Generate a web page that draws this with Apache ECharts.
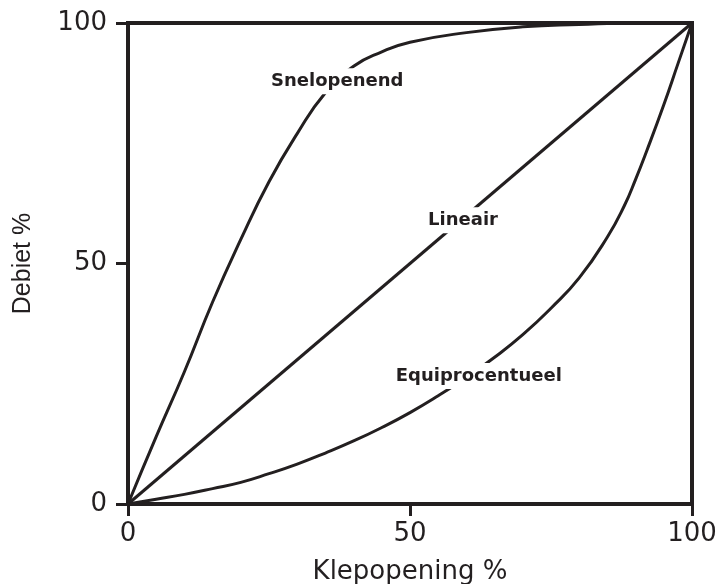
<!DOCTYPE html>
<html>
<head>
<meta charset="utf-8">
<script src="https://cdn.jsdelivr.net/npm/echarts@6/dist/echarts.min.js"></script>
<style>html,body{margin:0;padding:0;background:#fff;}#c{width:723px;height:584px;}</style>
</head>
<body>
<div id="c"></div>
<script>
const ticks = [0, 50, 100];
const snelopenend = [[0,0],[5,14],[10,27.5],[15,42],[20,55],[25,67],[30,77],[35,85.5],[40,91],[45,94],[50,96],[60,98],[70,99.2],[80,99.7],[90,100],[100,100]];
const lineair = [[0,0],[100,100]];
const equiprocentueel = [[0,0],[5,1],[10,2],[15,3.2],[20,4.5],[25,6.3],[30,8.3],[35,10.6],[40,13.1],[45,15.9],[50,19],[55,22.5],[60,26.3],[65,30.5],[70,35.2],[75,40.7],[80,47],[85,55.5],[88,62],[90,67.5],[92,73.5],[95,83],[97.5,91.5],[100,100]];
const curveLabels = [
  {name: 'Snelopenend', value: [37.1, 87.9]},
  {name: 'Lineair', value: [59.4, 59.0]},
  {name: 'Equiprocentueel', value: [62.2, 26.6]}
];
const ink = '#231f20';
const chart = echarts.init(document.getElementById('c'));
const lineStyle = {color: ink, width: 3};
chart.setOption({
  animation: false,
  grid: {left: 128, right: 31, top: 23, bottom: 80, outerBoundsMode: 'none', containLabel: false, show: true, borderColor: ink, borderWidth: 4, backgroundColor: '#fff'},
  xAxis: {
    type: 'value', min: 0, max: 100, interval: 50,
    name: 'Klepopening %', nameLocation: 'middle', nameGap: 55,
    nameTextStyle: {fontFamily: 'DejaVu Sans', fontSize: 26, color: ink},
    axisLine: {show: true, lineStyle: {color: ink, width: 4}},
    axisTick: {show: true, length: 12, lineStyle: {color: ink, width: 3}},
    axisLabel: {fontFamily: 'DejaVu Sans', fontSize: 26, color: ink, margin: 17},
    splitLine: {show: false}
  },
  yAxis: {
    type: 'value', min: 0, max: 100, interval: 50,
    name: 'Debiet %', nameLocation: 'middle', nameGap: 92,
    nameTextStyle: {fontFamily: 'Liberation Sans', fontSize: 25, color: ink},
    axisLine: {show: true, lineStyle: {color: ink, width: 4}},
    axisTick: {show: true, length: 12, lineStyle: {color: ink, width: 3}},
    axisLabel: {fontFamily: 'DejaVu Sans', fontSize: 26, color: ink, margin: 21},
    splitLine: {show: false}
  },
  series: [
    {type: 'line', data: snelopenend, smooth: true, symbol: 'none', lineStyle: lineStyle, z: 2},
    {type: 'line', data: lineair, symbol: 'none', lineStyle: lineStyle, z: 2},
    {type: 'line', data: equiprocentueel, smooth: true, symbol: 'none', lineStyle: lineStyle, z: 2},
    {type: 'scatter', data: curveLabels, symbolSize: 0, z: 10, itemStyle: {opacity: 1},
     emphasis: {disabled: true},
     label: {show: true, position: 'inside', formatter: p => p.name, fontFamily: 'DejaVu Sans', fontWeight: 'bold', fontSize: 18, color: ink, backgroundColor: '#fff', padding: [4, 2]}}
  ]
});
</script>
</body>
</html>
